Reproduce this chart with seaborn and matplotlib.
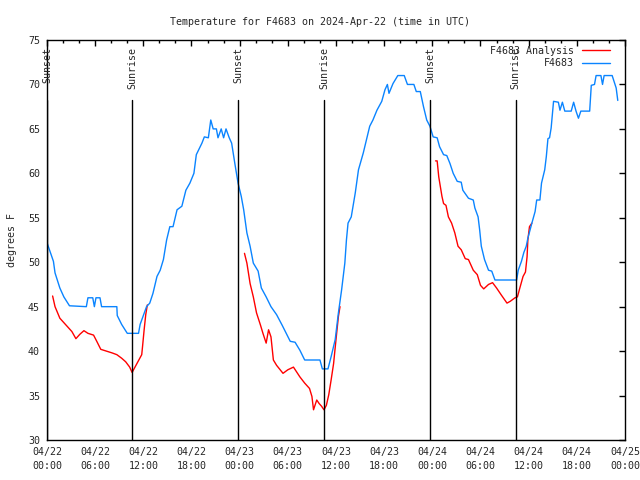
import pandas as pd
import matplotlib
matplotlib.use('Agg')
import matplotlib.pyplot as plt
import matplotlib.ticker as mticker
import seaborn as sns

# observed F4683 (hours since 04/22 00:00 UTC, deg F)
obs_hours = [0.0, 0.8, 1.0, 1.6, 2.1, 2.8, 4.9, 5.1, 5.7, 5.9,
             6.1, 6.6, 6.8, 8.7, 8.75, 9.3, 10.0, 11.4, 11.6, 12.0,
             12.4, 12.8, 13.2, 13.7, 14.1, 14.5, 14.9, 15.3, 15.7, 16.2,
             16.8, 17.3, 17.8, 18.3, 18.6, 19.3, 19.6, 20.1, 20.4, 20.7,
             21.1, 21.3, 21.7, 22.0, 22.3, 22.7, 23.0, 23.4, 23.8, 24.2,
             24.5, 24.9, 25.3, 25.7, 26.3, 26.7, 27.3, 27.9, 28.6, 29.3,
             30.3, 30.9, 31.5, 32.1, 34.0, 34.3, 35.0, 35.4, 35.9, 36.3,
             36.7, 37.1, 37.3, 37.5, 37.9, 38.4, 38.8, 39.4, 39.8, 40.2,
             40.6, 41.1, 41.7, 42.1, 42.4, 42.6, 43.1, 43.7, 44.5, 44.9,
             45.7, 46.0, 46.5, 46.9, 47.3, 47.7, 48.1, 48.6, 48.9, 49.4,
             49.8, 50.2, 50.6, 51.1, 51.6, 51.8, 52.5, 53.1, 53.3, 53.7,
             53.9, 54.1, 54.5, 55.0, 55.4, 55.8, 58.5, 58.7, 59.1, 59.4,
             59.7, 59.9, 60.4, 60.8, 61.0, 61.4, 61.6, 62.0, 62.2, 62.4,
             62.6, 62.8, 63.1, 63.7, 63.9, 64.2, 64.5, 65.3, 65.6, 65.9,
             66.2, 66.5, 67.6, 67.8, 68.2, 68.4, 69.0, 69.2, 69.4, 70.4,
             70.9, 71.1]
obs_temps = [52.2, 50.1, 48.8, 47.1, 46.1, 45.1, 45, 46, 46, 45,
             46, 46, 45, 45, 44, 43, 42, 42, 43, 44,
             45, 45.4, 46.5, 48.4, 49.1, 50.3, 52.5, 54, 54, 55.9,
             56.3, 58.1, 58.9, 60, 62.1, 63.4, 64.1, 64, 66, 65,
             65, 64, 65, 64, 65, 64, 63.4, 61.1, 58.9, 57.4,
             55.9, 53.3, 51.8, 49.9, 49, 47.1, 46.1, 45, 44.1, 42.9,
             41.1, 41, 40.1, 39, 39, 38, 38, 39.4, 41.3, 44.3,
             46.9, 49.9, 52.5, 54.4, 55.1, 57.8, 60.4, 62.3, 63.8, 65.3,
             66, 67.1, 68.1, 69.4, 70, 69, 70.1, 71, 71, 70,
             70, 69.2, 69.2, 67.5, 66, 65.3, 64.1, 64, 63, 62.1,
             62, 61.1, 60, 59.1, 59, 58.1, 57.2, 57, 56.1, 55.1,
             53.6, 51.8, 50.3, 49.1, 49, 48, 48, 49.1, 50.1, 51.1,
             51.8, 52.7, 54.4, 55.7, 57, 57, 58.9, 60.4, 61.9, 63.9,
             64, 65.1, 68.1, 68, 67.1, 68, 67, 67, 68, 67,
             66.2, 67, 67, 69.9, 70, 71, 71, 70, 71, 71,
             69.6, 68.2]

# analysis runs (three separate overnight pieces)
ana1_hours = [0.7, 1.0, 1.6, 2.5, 3.1, 3.6, 4.1, 4.6, 5.1, 5.8, 6.2, 6.7, 7.4,
              8.1, 8.7, 9.3, 9.8, 10.3, 10.6, 11.2, 11.8, 11.9, 12.1, 12.3, 12.5]
ana1_temps = [46.2, 45, 43.7, 42.8, 42.2, 41.4, 41.9, 42.3, 42.0, 41.8, 41.1, 40.2, 40,
              39.8, 39.6, 39.2, 38.8, 38.2, 37.6, 38.6, 39.6, 40.5, 42.4, 44.1, 45.2]
ana2_hours = [24.6, 24.9, 25.3, 25.7, 26.1, 26.6, 26.9, 27.3, 27.6, 27.9, 28.2,
              28.6, 29.4, 30.0, 30.7, 31.5, 32.1, 32.7, 33.0, 33.2, 33.6, 33.9,
              34.2, 34.5, 34.8, 35.1, 35.4, 35.7, 36.0, 36.3, 36.5]
ana2_temps = [51, 49.9, 47.6, 46.1, 44.3, 42.9, 42, 40.9, 42.4, 41.6, 39,
              38.4, 37.5, 37.9, 38.2, 37.1, 36.4, 35.8, 34.9, 33.4, 34.5, 34.1,
              33.8, 33.4, 33.9, 35.1, 36.8, 38.6, 41.3, 43.9, 45]
ana3_hours = [48.4, 48.6, 48.8, 49.2, 49.4, 49.7, 50.0, 50.4, 50.8, 51.2, 51.6,
              52.1, 52.5, 53.1, 53.6, 54.0, 54.4, 55.0, 55.5, 56.0, 56.6, 57.3,
              57.7, 58.3, 58.6, 58.9, 59.3, 59.6, 59.8, 59.9, 60.1, 60.4]
ana3_temps = [61.4, 61.4, 59.6, 57.4, 56.6, 56.4, 55.1, 54.4, 53.3, 51.8, 51.4,
              50.4, 50.3, 49.1, 48.6, 47.4, 47, 47.5, 47.7, 47.1, 46.3, 45.4,
              45.6, 46, 46.1, 47.1, 48.4, 48.9, 50.6, 52.5, 54, 54.4]

sun_hours = [0.0, 10.6, 23.8, 34.5, 47.7, 58.4]
sun_labels = ['Sunset', 'Sunrise', 'Sunset', 'Sunrise', 'Sunset', 'Sunrise']

tick_hours = list(range(0, 73, 6))
tick_labels = ['04/22\n00:00', '04/22\n06:00', '04/22\n12:00', '04/22\n18:00',
               '04/23\n00:00', '04/23\n06:00', '04/23\n12:00', '04/23\n18:00',
               '04/24\n00:00', '04/24\n06:00', '04/24\n12:00', '04/24\n18:00',
               '04/25\n00:00']

obs = pd.DataFrame({'hour': obs_hours, 'temp': obs_temps})
ana = pd.concat([
    pd.DataFrame({'hour': h, 'temp': t, 'seg': i})
    for i, (h, t) in enumerate([(ana1_hours, ana1_temps),
                                (ana2_hours, ana2_temps),
                                (ana3_hours, ana3_temps)])
])

sns.set_style('white')
plt.rcParams['font.family'] = ['DejaVu Sans Mono']
fs = 7.2

fig = plt.figure(figsize=(6.4, 4.8), dpi=100)
ax = fig.add_axes([47 / 640, 40 / 480, 578 / 640, 400 / 480])

sns.lineplot(data=ana, x='hour', y='temp', units='seg', estimator=None,
             color='#ff0000', linewidth=1, label='F4683 Analysis', ax=ax)
sns.lineplot(data=obs, x='hour', y='temp', color='#0a84ff', linewidth=1,
             label='F4683', ax=ax)

for h, lab in zip(sun_hours, sun_labels):
    ax.axvline(h, ymin=0, ymax=0.85, color='black', linewidth=1)
    ax.text(h, 74.2, lab, rotation=90, ha='center', va='top', fontsize=fs)

ax.set_xlim(0, 72)
ax.set_ylim(30, 75)
ax.set_xticks(tick_hours)
ax.set_xticklabels(tick_labels, fontsize=fs, linespacing=1.5)
ax.xaxis.set_minor_locator(mticker.MultipleLocator(2))
ax.set_yticks(range(30, 76, 5))
ax.tick_params(axis='y', labelsize=fs)
ax.tick_params(which='both', direction='in', top=True, right=True,
               color='black', width=1)
ax.tick_params(which='major', length=4.5, pad=5)
ax.tick_params(which='minor', length=2.5)
for s in ax.spines.values():
    s.set_color('black')
    s.set_linewidth(1)

ax.set_xlabel('')
ax.set_ylabel('degrees F', fontsize=fs, labelpad=8)
fig.suptitle('Temperature for F4683 on 2024-Apr-22 (time in UTC)',
             fontsize=fs, x=0.5, y=0.965)

# one legend entry per series
handles, labels = ax.get_legend_handles_labels()
seen = {}
for h, l in zip(handles, labels):
    seen.setdefault(l, h)
ax.legend(list(seen.values()), list(seen.keys()),
          loc='upper right', bbox_to_anchor=(0.985, 1.0), frameon=False,
          markerfirst=False, fontsize=fs, handlelength=2.8,
          labelspacing=0.25, borderaxespad=0.2)

fig.savefig('out.png', dpi=100)
